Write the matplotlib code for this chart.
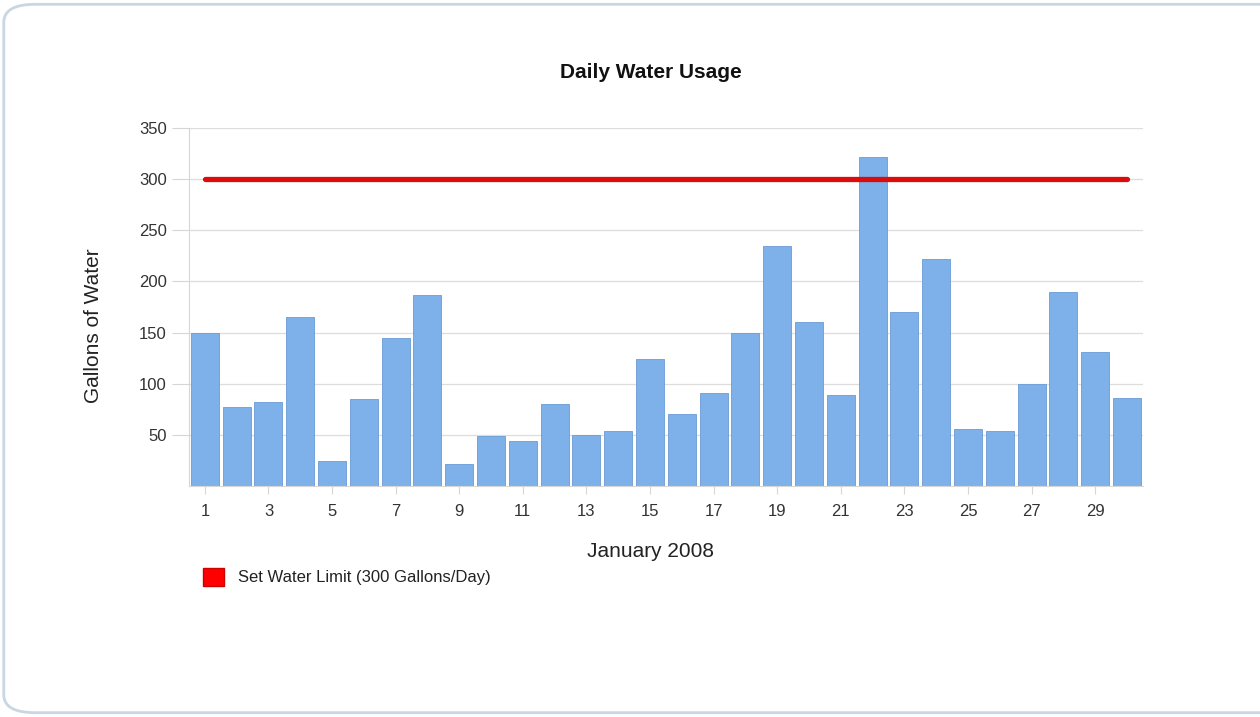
import matplotlib
matplotlib.use("Agg")
import matplotlib.pyplot as plt
from matplotlib.patches import FancyBboxPatch, Patch

# Daily usage

days = list(range(1, 31))
gallons = [150, 77, 82, 165, 25, 85, 145, 187, 22, 49,
           44, 80, 50, 54, 124, 70, 91, 150, 235, 160,
           89, 322, 170, 222, 56, 54, 100, 190, 131, 86]
limit = 300
tick_days = list(range(1, 30, 2))
y_ticks = [50, 100, 150, 200, 250, 300, 350]

plt.rcParams["font.family"] = ["Liberation Sans", "DejaVu Sans"]

fig = plt.figure(figsize=(12.6, 7.17), dpi=100)

# rounded panel frame behind the chart
frame = FancyBboxPatch((0.003, 0.006), 1.05, 0.988,
                       boxstyle="round,pad=0,rounding_size=0.025",
                       transform=fig.transFigure, facecolor="white",
                       edgecolor="#c9d6e3", linewidth=2, zorder=-10)
fig.patches.append(frame)

ax = fig.add_axes([0.15, 0.322, 0.757, 0.4995])
ax.set_facecolor("none")

ax.bar(days, gallons, width=0.88, color="#7eb0ea", edgecolor="#6a9bd4",
       linewidth=0.6, zorder=2)
ax.plot([days[0], days[-1]], [limit, limit], color="#dd0c0c",
        linewidth=3.8, solid_capstyle="round", zorder=3)

ax.set_xlim(0.5, 30.5)
ax.set_ylim(0, 350)
ax.set_xticks(tick_days)
ax.set_xticklabels([str(d) for d in tick_days])
ax.set_yticks(y_ticks)
ax.grid(axis="y", color="#dddddd", linewidth=0.9, zorder=0)

for side in ["top", "right"]:
    ax.spines[side].set_visible(False)
ax.spines["left"].set_color("#d6d6d6")
ax.spines["bottom"].set_color("#d6d6d6")

ax.tick_params(axis="y", length=12, color="#d6d6d6", labelsize=12,
               labelcolor="#333333", pad=4)
ax.tick_params(axis="x", length=6, color="#d6d6d6", labelsize=12,
               labelcolor="#333333", pad=7)

# title and x label sit a little left of the plot centre
ax.set_title("Daily Water Usage", fontsize=15, fontweight="bold",
             color="#111111", pad=36, x=0.484)
ax.set_xlabel("January 2008", fontsize=15, color="#222222", labelpad=19)
ax.xaxis.set_label_coords(0.484, -0.155)
ax.set_ylabel("Gallons of Water", fontsize=15, color="#222222", labelpad=26)
ax.yaxis.label.set_y(0.447)

handle = Patch(facecolor="#ff0000", edgecolor="#cc0000")
fig.legend([handle], ["Set Water Limit (300 Gallons/Day)"],
           loc="upper left", bbox_to_anchor=(0.149, 0.229), frameon=False,
           fontsize=12, handlelength=1.3, handleheight=1.3,
           handletextpad=0.8, labelcolor="#222222")

fig.savefig("out.png", dpi=100, facecolor="white")
